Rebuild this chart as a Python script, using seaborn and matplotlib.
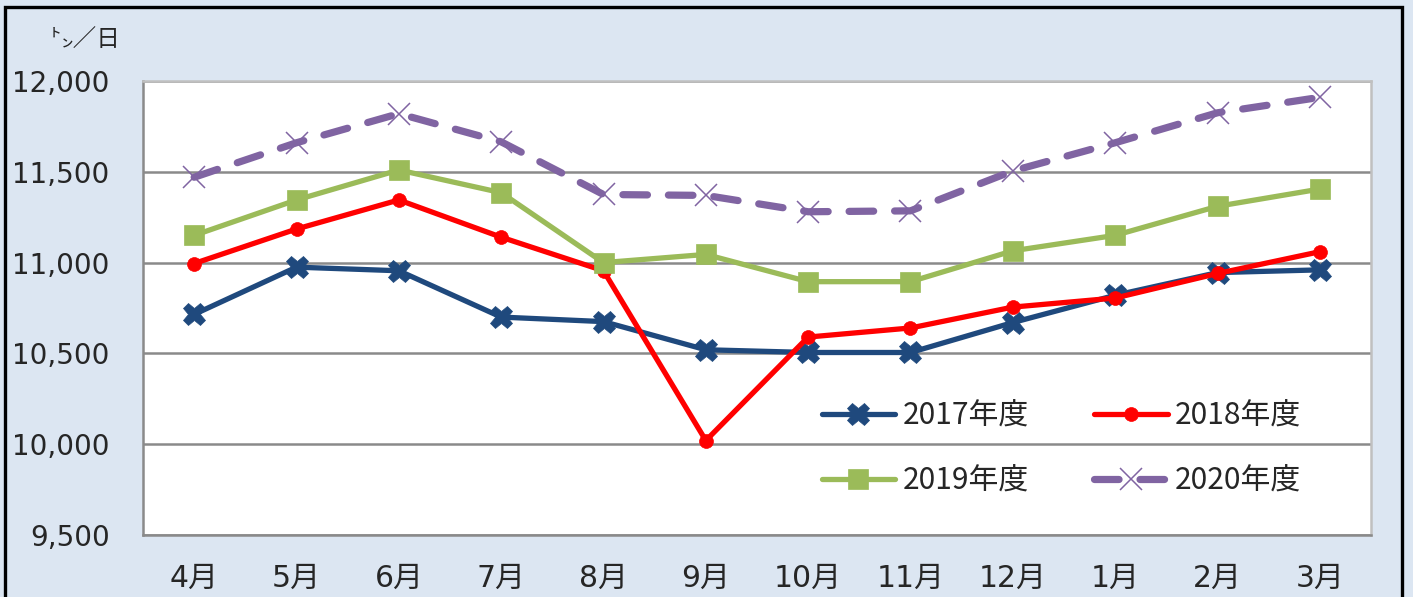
import matplotlib
matplotlib.use("Agg")
import matplotlib.pyplot as plt
import matplotlib.ticker as mticker
from matplotlib.patches import Rectangle
import pandas as pd
import seaborn as sns

months = ["4月", "5月", "6月", "7月", "8月", "9月", "10月", "11月", "12月", "1月", "2月", "3月"]
fy2017 = [10715, 10975, 10955, 10700, 10675, 10520, 10505, 10505, 10670, 10820, 10945, 10960]
fy2018 = [10995, 11185, 11345, 11140, 10955, 10020, 10590, 10640, 10755, 10805, 10940, 11060]
fy2019 = [11150, 11345, 11510, 11385, 11000, 11045, 10895, 10895, 11065, 11150, 11310, 11405]
fy2020 = [11470, 11660, 11820, 11665, 11375, 11370, 11280, 11285, 11505, 11660, 11825, 11910]
series_names = ["2017年度", "2018年度", "2019年度", "2020年度"]
y_ticks = [9500, 10000, 10500, 11000, 11500, 12000]
unit_label = "㌧／日"

sns.set_style("white")
# latin digits from DejaVu, kanji fall back to Noto CJK
plt.rcParams["font.family"] = ["DejaVu Sans", "Noto Sans CJK JP"]

bg = "#dce6f2"
grid_col = "#8a8a8a"

fig = plt.figure(figsize=(14.13, 5.97), dpi=100, facecolor=bg)
ax = fig.add_axes([143 / 1413, 62 / 597, 1228 / 1413, 454 / 597])
ax.set_facecolor("white")

x = list(range(len(months)))
df = pd.DataFrame({"x": x, "2017": fy2017, "2018": fy2018, "2019": fy2019, "2020": fy2020})

sns.lineplot(data=df, x="x", y="2017", ax=ax, sort=False, color="#1f497d", lw=3.8,
             marker="X", markersize=16, markeredgecolor="#1f497d", markeredgewidth=0.5,
             label=series_names[0], zorder=3)
sns.lineplot(data=df, x="x", y="2018", ax=ax, sort=False, color="#ff0000", lw=3.8,
             marker="o", markersize=10, markeredgecolor="#ff0000", markeredgewidth=0.5,
             label=series_names[1], zorder=4)
sns.lineplot(data=df, x="x", y="2019", ax=ax, sort=False, color="#9bbb59", lw=3.8,
             marker="s", markersize=15, markeredgecolor="#9bbb59", markeredgewidth=0.5,
             label=series_names[2], zorder=5)
sns.lineplot(data=df, x="x", y="2020", ax=ax, sort=False, color="#8064a2", lw=5.2,
             linestyle=(0, (3.4, 2.9)), dash_capstyle="round",
             marker="x", markersize=16, markeredgecolor="#8064a2", markeredgewidth=1.1,
             label=series_names[3], zorder=6)

ax.set_xlim(-0.5, len(months) - 0.5)
ax.set_ylim(y_ticks[0], y_ticks[-1])
ax.set_yticks(y_ticks)
ax.yaxis.set_major_formatter(mticker.StrMethodFormatter("{x:,.0f}"))
ax.set_xticks(x)
ax.set_xticklabels(months)
ax.set_xticks([i - 0.5 for i in range(len(months) + 1)], minor=True)
ax.tick_params(axis="x", which="major", length=0, pad=21, labelsize=21.5)
ax.tick_params(axis="x", which="minor", length=6, width=1.5, color=grid_col, direction="out")
ax.tick_params(axis="y", length=8, width=1.5, color=grid_col, pad=16, labelsize=20)
ax.set_xlabel("")
ax.set_ylabel("")

ax.grid(axis="y", color=grid_col, lw=1.8)
ax.grid(axis="x", visible=False)
ax.set_axisbelow(True)
for side in ["left", "bottom"]:
    ax.spines[side].set_color(grid_col)
    ax.spines[side].set_linewidth(1.8)
for side in ["top", "right"]:
    ax.spines[side].set_color("#c0c0c0")
    ax.spines[side].set_linewidth(1.8)

h, l = ax.get_legend_handles_labels()
order = [0, 2, 1, 3]
ax.legend([h[i] for i in order], [l[i] for i in order], ncol=2, loc="center",
          bbox_to_anchor=(0.748, 0.190), frameon=False,
          prop={"family": ["Noto Sans CJK JP"], "size": 21.5},
          handlelength=2.45, handletextpad=0.25, columnspacing=2.2, labelspacing=1.15,
          borderpad=0)

fig.text(50 / 1413, 1 - 40 / 597, unit_label, fontsize=17, va="center", ha="left",
         family=["Noto Sans CJK JP"])

fig.patches.append(Rectangle((5 / 1413, -0.05), 1397 / 1413, (590 / 597) + 0.05,
                             transform=fig.transFigure, fill=False, ec="black", lw=2.4))

fig.savefig("out.png", dpi=100, facecolor=bg)
